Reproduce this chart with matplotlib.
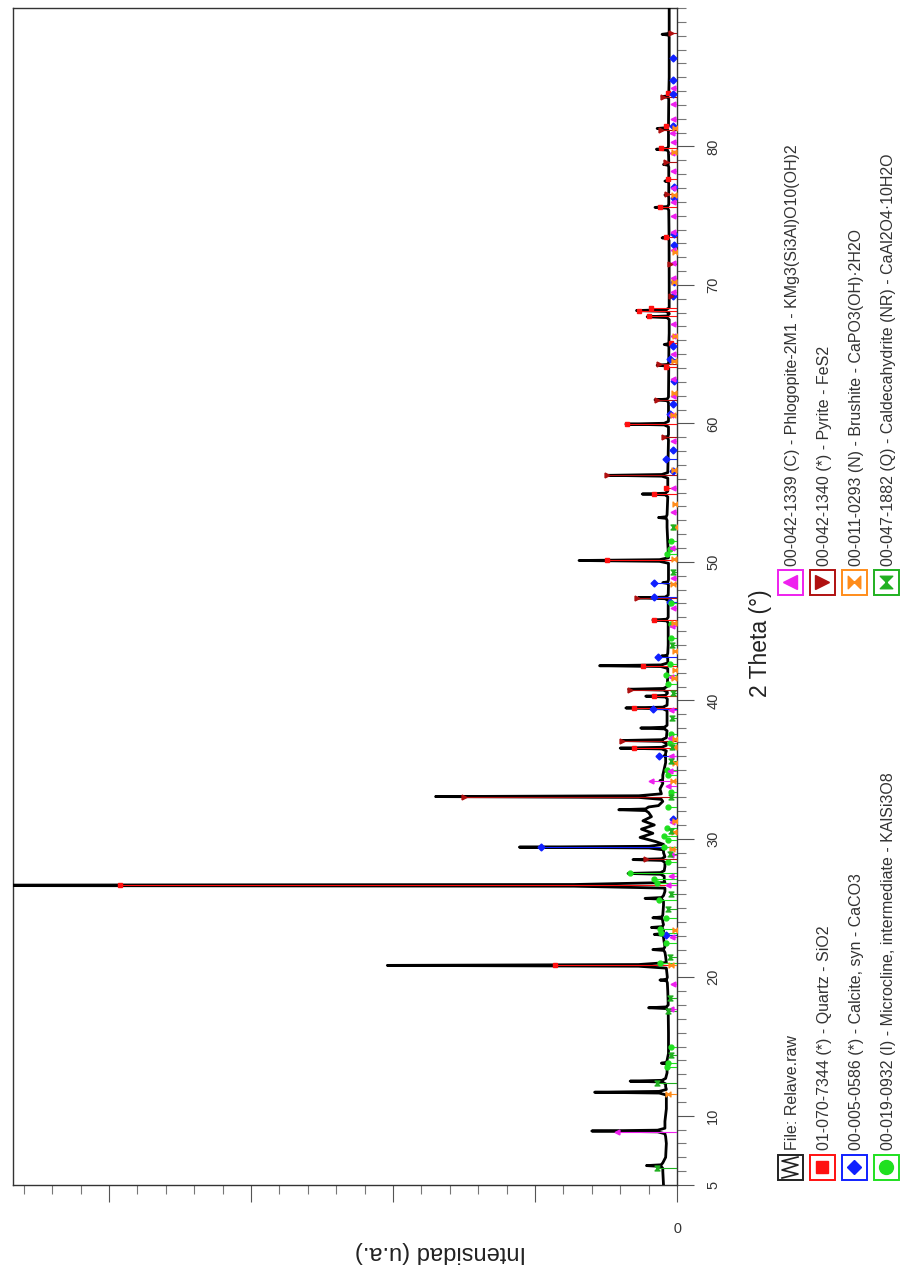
import matplotlib.pyplot as plt
from matplotlib.patches import Rectangle
from matplotlib.path import Path
from matplotlib.ticker import MultipleLocator
import numpy as np

plt.rcParams['font.family'] = ['Liberation Sans', 'DejaVu Sans']

# ---- measured pattern (2theta in degrees, counts) ----
# background between peaks
bg_theta = [5.0, 6.0, 7.0, 8.0, 8.5, 9.6, 10.5, 11.3, 12.1, 13.1, 14.5, 16.0, 17.4,
            19.0, 20.2, 21.5, 22.5, 24.0, 25.2, 26.2, 27.0, 28.0, 29.0, 29.8, 30.1,
            30.4, 30.7, 31.0, 31.3, 31.6, 32.4, 32.7, 33.6, 34.6, 35.5, 38.5,
            42.0, 44.0, 49.0, 52.5, 55.5, 58.5, 61.0, 66.5, 70.0, 75.0, 80.5, 85.0, 90.0]
bg_counts = [95, 100, 80, 75, 80, 85, 75, 75, 80, 70, 60, 60, 62,
             65, 70, 80, 90, 100, 95, 85, 90, 85, 95, 150, 260,
             170, 250, 160, 240, 180, 130, 100, 120, 100, 80, 70,
             65, 62, 60, 70, 65, 60, 60, 55, 55, 58, 60, 55, 55]

# diffraction peaks: position, top, foot level
peak_theta = [6.4, 8.9, 11.7, 12.5, 13.8, 17.8, 19.8, 20.86, 22.0, 23.1, 23.6, 24.3,
              25.7, 26.64, 27.5, 28.5, 29.4, 32.1, 33.05, 34.2, 36.0, 36.55, 37.1,
              38.0, 39.45, 40.3, 40.8, 42.5, 43.2, 45.8, 47.4, 48.5, 50.1, 53.2, 54.9,
              56.25, 59.0, 59.95, 61.7, 64.2, 65.7, 67.7, 68.15, 73.4, 75.6, 76.5,
              77.5, 78.7, 79.8, 81.3, 83.6, 88.1]
peak_top = [215, 600, 580, 330, 110, 200, 120, 2040, 170, 160, 180, 170,
            225, 6500, 345, 310, 1110, 410, 1700, 120, 90, 400, 390,
            255, 360, 220, 340, 545, 110, 170, 275, 100, 690, 130, 245,
            485, 95, 360, 155, 140, 90, 210, 285, 105, 155, 85,
            85, 95, 145, 140, 105, 105]
peak_foot = [100, 85, 75, 80, 70, 62, 68, 75, 85, 95, 95, 100,
             95, 85, 90, 85, 95, 200, 110, 100, 80, 75, 75,
             70, 70, 68, 68, 65, 65, 62, 62, 60, 60, 70, 65,
             65, 60, 60, 60, 58, 57, 55, 55, 56, 58, 58,
             58, 58, 60, 60, 58, 55]

# ---- reference patterns (stick positions and display heights) ----
quartz_theta = [20.86, 26.64, 36.54, 39.47, 40.29, 42.45, 45.79, 50.14, 54.87, 55.33,
                59.96, 64.04, 65.79, 67.74, 68.14, 68.32, 73.47, 75.66, 77.67, 79.88,
                81.49, 83.84]
quartz_h = [860, 3920, 300, 300, 160, 240, 160, 490, 160, 80,
            355, 80, 40, 200, 270, 180, 80, 120, 60, 110, 80, 60]

calcite_theta = [23.06, 29.41, 31.44, 35.97, 39.40, 43.15, 47.12, 47.49, 48.51, 56.57,
                 57.41, 58.10, 60.68, 61.40, 63.06, 64.67, 65.60, 69.20, 70.20, 72.90,
                 73.70, 76.30, 77.10, 81.50, 83.80, 84.80, 86.40]
calcite_h = [75, 960, 25, 130, 170, 135, 50, 160, 165, 30,
             80, 25, 50, 30, 20, 50, 30, 25, 20, 20,
             20, 20, 20, 30, 30, 25, 30]

microcline_theta = [13.5, 13.8, 15.0, 21.0, 22.5, 23.2, 23.5, 24.3, 25.6, 26.8, 27.1,
                    27.5, 28.3, 29.4, 29.9, 30.2, 30.8, 32.3, 33.4, 34.6, 35.0, 36.9,
                    37.6, 41.2, 41.8, 42.6, 44.5, 45.5, 47.0, 50.6, 50.9, 51.5]
microcline_h = [70, 60, 40, 120, 80, 110, 120, 80, 130, 140, 160,
                330, 60, 90, 60, 90, 70, 60, 40, 60, 70, 50,
                40, 60, 80, 50, 40, 40, 40, 70, 50, 40]

phlogopite_theta = [8.8, 17.7, 19.5, 22.9, 26.7, 27.3, 28.8, 31.2, 33.8, 34.2, 34.9,
                    36.0, 37.3, 39.3, 41.7, 45.4, 46.7, 48.8, 51.0, 53.6, 55.3, 58.7,
                    60.6, 62.0, 63.2, 65.0, 66.3, 67.2, 69.5, 70.5, 71.6, 72.5, 73.8,
                    75.0, 76.0, 77.0, 78.2, 79.5, 80.3, 81.0, 82.0, 83.1, 84.2]
phlogopite_h = [420, 40, 30, 35, 60, 45, 40, 35, 60, 180, 50,
                45, 50, 40, 45, 35, 30, 30, 35, 30, 30, 25,
                45, 30, 30, 30, 25, 30, 25, 30, 25, 25, 30,
                25, 30, 25, 30, 35, 30, 35, 30, 25, 30]

pyrite_theta = [28.51, 33.03, 37.07, 40.76, 47.41, 56.27, 59.00, 61.69, 64.28, 69.20,
                71.50, 76.60, 78.90, 81.20, 83.60, 88.20]
pyrite_h = [220, 1500, 390, 330, 280, 490, 90, 140, 130, 40,
            50, 70, 80, 110, 100, 40]

brushite_theta = [11.6, 20.9, 23.4, 29.3, 30.5, 31.3, 34.2, 35.5, 36.6, 37.2, 41.6,
                  42.2, 43.6, 45.6, 48.4, 50.2, 52.5, 54.2, 56.6, 60.6, 62.2, 64.5,
                  66.3, 70.2, 72.4, 76.5, 79.6, 81.3]
brushite_h = [60, 45, 15, 35, 20, 15, 30, 15, 20, 15, 20,
              15, 15, 20, 25, 20, 15, 15, 20, 25, 20, 20,
              15, 20, 15, 20, 20, 15]

caldeca_theta = [6.2, 12.4, 14.4, 17.6, 18.5, 21.5, 24.9, 26.0, 28.9, 30.6, 33.0,
                 35.6, 36.6, 38.7, 40.5, 44.0, 49.3, 52.5]
caldeca_h = [140, 140, 40, 60, 50, 50, 60, 45, 50, 40, 40,
             45, 35, 35, 30, 35, 30, 30]

legend_left = ['File: Relave.raw',
               '01-070-7344 (*) - Quartz - SiO2',
               '00-005-0586 (*) - Calcite, syn - CaCO3',
               '00-019-0932 (I) - Microcline, intermediate - KAlSi3O8']
legend_right = ['00-042-1339 (C) - Phlogopite-2M1 - KMg3(Si3Al)O10(OH)2',
                '00-042-1340 (*) - Pyrite - FeS2',
                '00-011-0293 (N) - Brushite - CaPO3(OH)\u00b72H2O',
                '00-047-1882 (Q) - Caldecahydrite (NR) - CaAl2O4\u00b710H2O']

# ---- custom markers ----
bowtie = Path([(-1, -1), (0, 0), (-1, 1), (-1, -1), (1, -1), (0, 0), (1, 1), (1, -1)],
              [Path.MOVETO, Path.LINETO, Path.LINETO, Path.CLOSEPOLY,
               Path.MOVETO, Path.LINETO, Path.LINETO, Path.CLOSEPOLY])
hourglass = Path([(-1, 1), (1, 1), (0, 0), (-1, 1), (-1, -1), (1, -1), (0, 0), (-1, -1)],
                 [Path.MOVETO, Path.LINETO, Path.LINETO, Path.CLOSEPOLY,
                  Path.MOVETO, Path.LINETO, Path.LINETO, Path.CLOSEPOLY])

phases = [
    (quartz_theta, quartz_h, '#ff1010', 's'),
    (calcite_theta, calcite_h, '#1020ff', 'D'),
    (microcline_theta, microcline_h, '#20e020', 'o'),
    (phlogopite_theta, phlogopite_h, '#ee20ee', '<'),
    (pyrite_theta, pyrite_h, '#b01010', '>'),
    (brushite_theta, brushite_h, '#ff8c1a', bowtie),
    (caldeca_theta, caldeca_h, '#20b020', hourglass),
]

# assemble the measured curve: narrow tip over a slightly wider foot
theta = list(bg_theta)
counts = list(bg_counts)
for p, top, foot in zip(peak_theta, peak_top, peak_foot):
    shoulder = foot + 0.1 * (top - foot)
    theta += [p - 0.2, p - 0.06, p, p + 0.06, p + 0.2]
    counts += [foot, shoulder, top, shoulder, foot]
order = np.argsort(theta)
theta = np.array(theta)[order]
counts = np.array(counts)[order]

W, H = 905, 1276
fig = plt.figure(figsize=(W / 100, H / 100), dpi=100)
ax = fig.add_axes([13 / W, (H - 1185) / H, 664 / W, 1177 / H])

# pattern drawn sideways: counts grow to the left, 2theta grows upward
ax.plot(counts, theta, color='black', lw=2.0, zorder=3)
for t, h, c, m in phases:
    ax.hlines(t, 0, h, colors=c, lw=0.8, zorder=4)
    ax.plot(h, t, ls='none', marker=m, color=c, ms=3.5, mec=c, zorder=5)

ax.set_xlim(4676, 0)
ax.set_ylim(5, 90)

for s in ax.spines.values():
    s.set_color('#333333')
    s.set_linewidth(1.0)

ax.yaxis.tick_right()
ax.set_yticks([5, 10, 20, 30, 40, 50, 60, 70, 80])
ax.yaxis.set_minor_locator(MultipleLocator(1))
ax.tick_params(axis='y', which='major', direction='out', length=12, width=0.8,
               color='#555555', pad=9, labelsize=10.5, labelcolor='#333333',
               labelrotation=90)
ax.tick_params(axis='y', which='minor', direction='out', length=6.5, width=0.8,
               color='#777777')
for lab in ax.get_yticklabels():
    lab.set_va('center')

ax.set_xticks([0, 1000, 2000, 3000, 4000])
ax.set_xticklabels(['0', '', '', '', ''])
ax.xaxis.set_minor_locator(MultipleLocator(200))
ax.tick_params(axis='x', which='major', direction='out', length=12, width=0.8,
               color='#555555', pad=12, labelsize=10.5, labelcolor='#333333',
               labelrotation=180)
ax.tick_params(axis='x', which='minor', direction='out', length=6.5, width=0.8,
               color='#777777')

# overlay in pixel units for axis titles and the phase legend
ov = fig.add_axes([0, 0, 1, 1])
ov.set_xlim(0, W)
ov.set_ylim(H, 0)
ov.axis('off')

ov.text(760, 643, '2 Theta (\u00b0)', rotation=90, ha='center', va='center',
        fontsize=16.5, color='#222222')
ov.text(440, 1252, 'Intensidad (u.a.)', rotation=180, ha='center', va='center',
        fontsize=17, color='#222222')

rows_x = [790, 822, 854, 886]
box = 25

def icon(cx, cy, color, marker=None, ms=8):
    ov.add_patch(Rectangle((cx - box / 2, cy - box / 2), box, box, fill=False,
                           edgecolor=color, lw=1.4))
    if marker is not None:
        ov.plot(cx, cy, marker=marker, color=color, mec=color, ms=ms, ls='none')

# raw file entry: box with a zigzag trace
icon(rows_x[0], 1167, '#222222')
zx = [rows_x[0] + d for d in [8, -8, 8, -8, 8, -8]]
zy = [1157, 1161, 1165, 1170, 1174, 1178]
ov.plot(zx, zy, color='#222222', lw=1.2)

left_style = [('#ff1010', 's', 9), ('#1020ff', 'D', 7.5), ('#20e020', 'o', 10)]
for i, (c, m, ms) in enumerate(left_style, start=1):
    icon(rows_x[i], 1167, c, m, ms)

right_style = [('#ee20ee', '<', 10), ('#b01010', '>', 10),
               ('#ff8c1a', bowtie, 9), ('#20b020', hourglass, 9)]
for i, (c, m, ms) in enumerate(right_style):
    icon(rows_x[i], 582, c, m, ms)

for x, txt in zip(rows_x, legend_left):
    ov.text(x + 2, 1150, txt, rotation=90, ha='center', va='bottom',
            fontsize=11.5, color='#333333')
for x, txt in zip(rows_x, legend_right):
    ov.text(x + 2, 566, txt, rotation=90, ha='center', va='bottom',
            fontsize=11.5, color='#333333')

fig.savefig('out.png', dpi=100)
